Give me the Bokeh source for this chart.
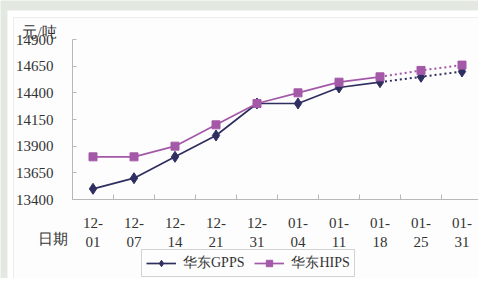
import numpy as np
from bokeh.plotting import figure
from bokeh.models import Range1d, FixedTicker, Label, BoxAnnotation
from bokeh.embed import file_html
from bokeh.resources import INLINE

dates = ["12-\n01", "12-\n07", "12-\n14", "12-\n21", "12-\n31",
         "01-\n04", "01-\n11", "01-\n18", "01-\n25", "01-\n31"]
gpps = [13500, 13600, 13800, 14000, 14300, 14300, 14450, 14500, 14550, 14600]
hips = [13800, 13800, 13900, 14100, 14300, 14400, 14500, 14550, 14610, 14660]
y_ticks = [13400, 13650, 13900, 14150, 14400, 14650, 14900]
n_actual = 8  # first 8 points are actual, rest forecast (dotted)

FONT = "Liberation Serif"
C_GPPS = "#2f2e60"
C_HIPS = "#a458a8"
AXIS_C = "#b8b8b8"
TXT_C = "#333333"
BG_C = "#e3e9e1"

# canvas / plot-area geometry in pixels
W, H = 478, 278
n = len(dates)
PL, PT, PB = 72, 39, 199          # plot area left/top/bottom
UX = 41.0                          # px per category

xs = list(np.arange(n) + 0.5)
uy = (PB - PT) / (y_ticks[-1] - y_ticks[0])  # px per y unit
x0 = -PL / UX
x1 = x0 + W / UX
y1 = y_ticks[-1] + PT / uy
y0 = y1 - H / uy


def dx(px):
    return x0 + px / UX


def dy(py):
    return y1 - py / uy


p = figure(width=W, height=H, output_backend="svg", toolbar_location=None,
           x_range=Range1d(x0, x1), y_range=Range1d(y0, y1),
           min_border=0)
p.outline_line_color = None
p.xgrid.visible = False
p.ygrid.visible = False
p.background_fill_color = BG_C

# axes (fixed inside the frame so that outer texts are not clipped)
p.yaxis.fixed_location = 0
p.yaxis.bounds = (y_ticks[0], y_ticks[-1])
p.yaxis.ticker = FixedTicker(ticks=y_ticks)
p.yaxis.axis_line_color = AXIS_C
p.yaxis.major_tick_line_color = AXIS_C
p.yaxis.major_tick_in = 4
p.yaxis.major_tick_out = 0
p.yaxis.minor_tick_line_color = None
p.yaxis.major_label_text_font = FONT
p.yaxis.major_label_text_font_size = "15px"
p.yaxis.major_label_text_color = TXT_C
p.yaxis.major_label_standoff = 19

p.xaxis.fixed_location = y_ticks[0]
p.xaxis.bounds = (0, n)
p.xaxis.ticker = FixedTicker(ticks=xs, minor_ticks=list(range(n + 1)))
p.xaxis.major_label_overrides = {x: d for x, d in zip(xs, dates)}
p.xaxis.axis_line_color = AXIS_C
p.xaxis.major_tick_line_color = None
p.xaxis.minor_tick_line_color = AXIS_C
p.xaxis.minor_tick_in = 5
p.xaxis.minor_tick_out = 0
p.xaxis.major_label_text_font = FONT
p.xaxis.major_label_text_font_size = "15px"
p.xaxis.major_label_text_color = TXT_C
p.xaxis.major_label_standoff = 9

# page background and outer panel with border (drawn beneath everything)
p.add_layout(BoxAnnotation(left=dx(7), top=dy(10), fill_color="white", fill_alpha=1,
                           line_color=None, level="underlay"))
p.add_layout(BoxAnnotation(left=dx(13), right=dx(W + 20), top=dy(17), bottom=dy(H + 20),
                           fill_color="#fdfdfd", fill_alpha=1,
                           line_color="#c8c8c8", line_width=1, level="underlay"))

# series
p.line(xs[:n_actual], gpps[:n_actual], color=C_GPPS, line_width=1.7, legend_label="华东GPPS")
p.line(xs[n_actual - 1:], gpps[n_actual - 1:], color=C_GPPS, line_width=2, line_dash="2 3")
p.scatter(xs, gpps, marker="diamond", size=11, color=C_GPPS, legend_label="华东GPPS")

p.line(xs[:n_actual], hips[:n_actual], color=C_HIPS, line_width=1.7, legend_label="华东HIPS")
p.line(xs[n_actual - 1:], hips[n_actual - 1:], color=C_HIPS, line_width=2, line_dash="2 3")
p.scatter(xs, hips, marker="square", size=8, color=C_HIPS, legend_label="华东HIPS")

# texts
p.add_layout(Label(x=dx(39), y=dy(31), text="元/吨", text_font=FONT, text_font_size="15px",
                   text_color=TXT_C, text_align="center", text_baseline="middle"))
p.add_layout(Label(x=dx(52), y=dy(238), text="日期", text_font=FONT, text_font_size="15px",
                   text_color=TXT_C, text_align="center", text_baseline="middle"))

lg = p.legend[0]
lg.orientation = "horizontal"
lg.location = (141, H - 277)     # from bottom-left of the canvas-wide frame
lg.border_line_color = "#a8a8a8"
lg.background_fill_color = "#fdfdfd"
lg.label_text_font = FONT
lg.label_text_font_size = "14px"
lg.label_text_color = TXT_C
lg.glyph_width = 30
lg.glyph_height = 16
lg.spacing = 10
lg.padding = 4
lg.margin = 0
lg.label_standoff = 7

open("out.html", "w").write(file_html(p, INLINE))
